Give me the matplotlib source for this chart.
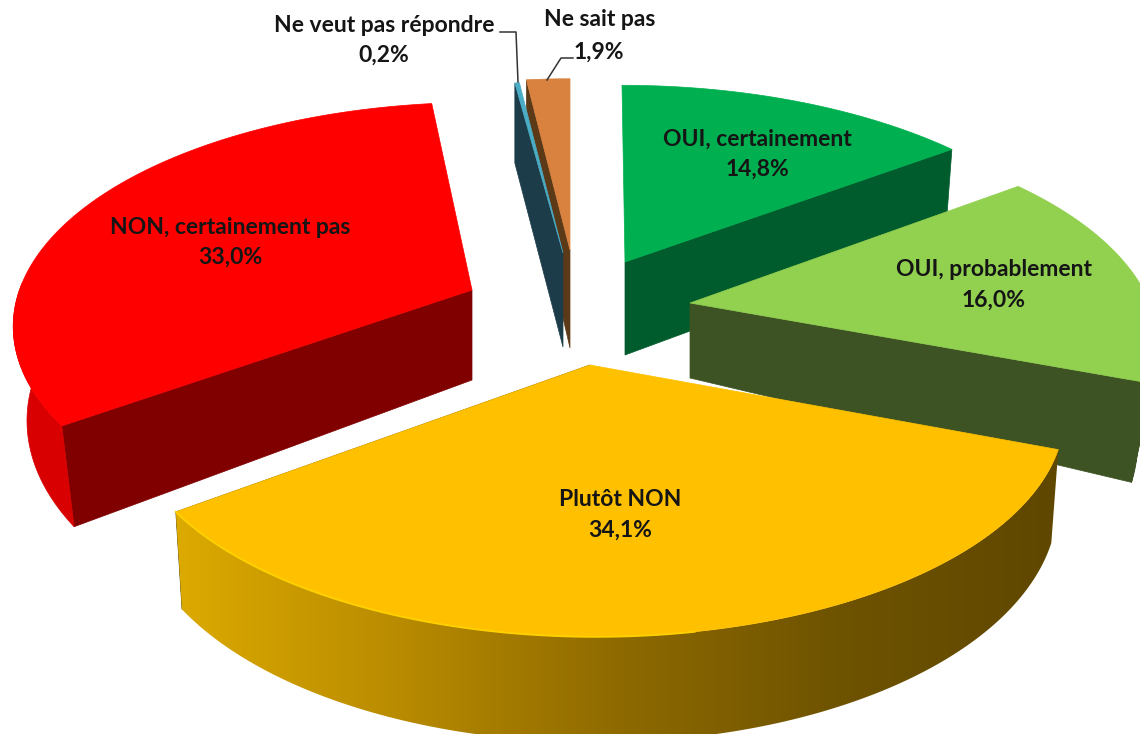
import numpy as np
import matplotlib
matplotlib.use("Agg")
import matplotlib.pyplot as plt
from matplotlib.patches import Polygon
from matplotlib.colors import LinearSegmentedColormap

# ---- data ----
names = ["OUI, certainement", "OUI, probablement", "Plutôt NON",
         "NON, certainement pas", "Ne veut pas répondre", "Ne sait pas"]
values = [14.8, 16.0, 34.1, 33.0, 0.2, 1.9]
value_labels = ["14,8%", "16,0%", "34,1%", "33,0%", "0,2%", "1,9%"]

# ---- style / layout ----
top_colors = ["#00B050", "#92D050", "#FFC000", "#FF0000", "#4BACC6", "#D98240"]
cut_colors = ["#005C2C", "#3D5323", "#5F4700", "#800000", "#1C3C4A", "#5C3A18"]
rim_colors = ["#005C2C", "#3D5323", "#C89A00", "#D80000", "#1C3C4A", "#5C3A18"]
apex_x = [625, 690, 590, 472, 563, 570]
apex_y = [262, 303, 365, 290, 253, 250]
d_apex = [93, 75, 90, 90, 94, 98]
d_rim = [96, 93, 88, 91, 92, 92]
rad = [1.0, 1.0, 1.0, 1.0, 0.95, 0.95]
rim_dx = [2, 0, 6, 10, 0, 0]
rim_dy = [2, -2, 2, -9, 0, 0]
lean = [-0.028, 0, 0, 0, 0, 0]
shrink = [0.98, 0.955, 0.985, 0.97, 1.0, 1.0]
RX, RY, K = 459.0, 215.0, 0.203

label_xy = [(757, 139), (994, 269), (620, 499), (230, 227), (384, 25), (600, 20)]
value_xy = [(757, 169), (994, 300), (620, 530), (230, 257), (384, 55), (599, 52)]


def ring(i, ang):
    """Screen points of the rim of slice i for clockwise-from-top angles (deg)."""
    a = np.radians(ang)
    u, v = np.sin(a) * rad[i], np.cos(a) * rad[i]
    s = 1.0 / (1.0 + K * v)
    y0 = RY * v * s
    x = apex_x[i] + RX * u * s + lean[i] * y0 + rim_dx[i]
    y = apex_y[i] - y0 + rim_dy[i]
    xb = apex_x[i] + (x - apex_x[i]) * shrink[i]
    yb = y + d_rim[i] * s ** 0.8
    return x, y, xb, yb


fig = plt.figure(figsize=(11.4, 7.34), dpi=100)
ax = fig.add_axes([0, 0, 1, 1])
ax.set_xlim(0, 1140)
ax.set_ylim(734, 0)
ax.axis("off")

bounds = np.concatenate([[0], np.cumsum(values)]) / sum(values) * 360.0


def draw_slice(i, z):
    t0, t1 = bounds[i], bounds[i + 1]
    ang = np.linspace(t0, t1, 200)
    x, y, xb, yb = ring(i, ang)
    ax0, ay0 = apex_x[i], apex_y[i]
    ay1 = ay0 + d_apex[i]

    # cut face of the trailing edge (visible when it faces the viewer)
    if i in (0, 1, 2):
        ax.add_patch(Polygon([(ax0, ay0), (x[-1], y[-1]), (xb[-1], yb[-1]), (ax0, ay1)],
                             closed=True, fc=cut_colors[i], ec=cut_colors[i], lw=0.5, zorder=z))
    # cut face of the leading edge
    if i in (3, 4, 5):
        ax.add_patch(Polygon([(ax0, ay0), (x[0], y[0]), (xb[0], yb[0]), (ax0, ay1)],
                             closed=True, fc=cut_colors[i], ec=cut_colors[i], lw=0.5, zorder=z))
    # outer rim, only the front half
    mask = (ang > 90) & (ang < 270)
    if mask.any():
        rx = np.concatenate([x[mask], xb[mask][::-1]])
        ry = np.concatenate([y[mask], yb[mask][::-1]])
        pts = np.column_stack([rx, ry])
        if i == 2:
            cmap = LinearSegmentedColormap.from_list(
                "rim", ["#DCAA00", "#B98B00", "#8E6A00", "#6E5300", "#5F4700"])
            poly = Polygon(pts, closed=True, fc="none", ec="none", zorder=z)
            ax.add_patch(poly)
            im = ax.imshow(np.linspace(0, 1, 256)[None, :], cmap=cmap, aspect="auto",
                           extent=(rx.min(), rx.max(), 750, 400), zorder=z)
            im.set_clip_path(poly)
        else:
            ax.add_patch(Polygon(pts, closed=True, fc=rim_colors[i], ec=rim_colors[i],
                                 lw=0.5, zorder=z))
    # top surface
    top = np.column_stack([np.concatenate([[ax0], x]), np.concatenate([[ay0], y])])
    ax.add_patch(Polygon(top, closed=True, fc=top_colors[i], ec=top_colors[i], lw=0.5, zorder=z + 0.5))
    if i == 2:
        m = ang > 170
        ax.plot(x[m], y[m], color="#FFD000", lw=1.4, zorder=z + 0.6)


for z, i in enumerate([0, 5, 4, 1, 3, 2]):
    draw_slice(i, z + 1)

ax.set_xlim(0, 1140)
ax.set_ylim(734, 0)

# leader lines
ax.plot([500, 516, 518], [32, 32, 82], color="#333333", lw=1.1, zorder=20)
ax.plot([573, 561, 547], [58, 58, 80], color="#333333", lw=1.1, zorder=20)

# labels
for n, v, lp, vp in zip(names, value_labels, label_xy, value_xy):
    ax.text(lp[0], lp[1], n, family="Lato", weight="bold", fontsize=16.5,
            color="#151515", ha="center", va="center", zorder=30)
    ax.text(vp[0], vp[1], v, family="Lato", weight="bold", fontsize=16.5,
            color="#151515", ha="center", va="center", zorder=30)

fig.savefig("out.png", dpi=100, facecolor="white")
